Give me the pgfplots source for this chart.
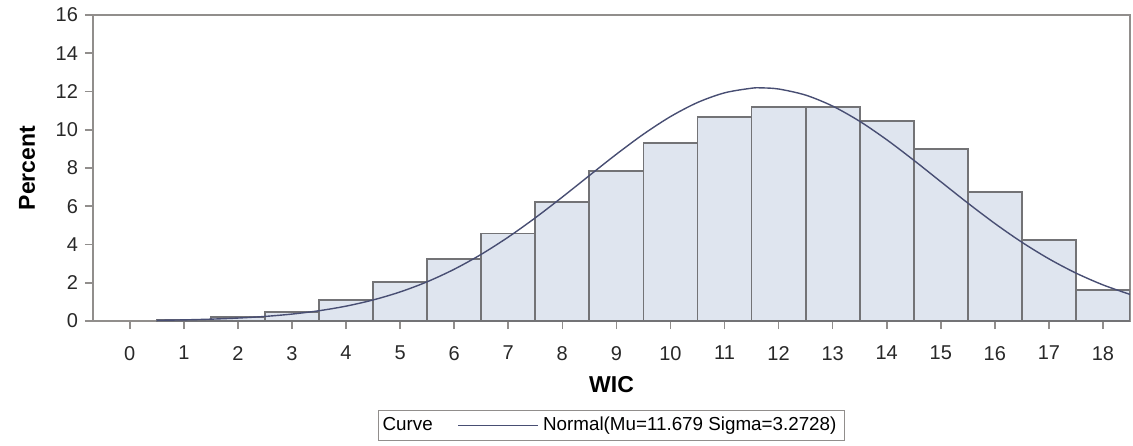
\documentclass[border=0pt]{standalone}
\usepackage{fontspec}
\setmainfont{Liberation Sans}
\usepackage{pgfplots}
\pgfplotsset{compat=1.18}
\definecolor{barfill}{RGB}{223,229,239}
\definecolor{baredge}{RGB}{115,115,118}
\definecolor{curvecol}{RGB}{72,78,115}
\definecolor{axiscol}{RGB}{145,142,140}
\definecolor{tickcol}{RGB}{40,40,40}
\begin{document}
\begin{tikzpicture}
\useasboundingbox (-46.5pt,-62pt) rectangle (520pt,160.5pt);
\begin{axis}[
  at={(0pt,0pt)}, anchor=south west,
  scale only axis,
  width=518.5pt, height=153pt,
  xmin=-0.68, xmax=18.5,
  ymin=0, ymax=16,
  xtick={0,1,...,18},
  ytick={0,2,...,16},
  xtick pos=left, ytick pos=left,
  tick align=outside,
  major tick length=4pt,
  axis line style={axiscol, line width=0.8pt},
  every tick/.style={axiscol, line width=0.8pt},
  tick label style={font=\fontsize{10}{12}\selectfont, text=tickcol},
  xticklabel style={yshift=-5pt},
  /pgf/number format/assume math mode=true,
  xlabel={\textbf{WIC}},
  ylabel={\textbf{Percent}},
  label style={font=\fontsize{11.5}{13}\selectfont\bfseries},
  xlabel style={at={(axis description cs:0.5,0)}, anchor=center, yshift=-32pt},
  ylabel style={at={(axis description cs:0,0.5)}, anchor=center, rotate=0, yshift=33pt},
  legend style={at={(axis description cs:0.5,0)}, anchor=center, yshift=-52.25pt,
    draw=axiscol, line width=0.6pt, font=\fontsize{9.4}{11}\selectfont,
    inner xsep=2pt, inner ysep=1.5pt},
  legend cell align=left,
]
\addplot[ybar, bar width=1, fill=barfill, draw=baredge, line width=0.9pt, forget plot]
coordinates {
(1,0.07) (2,0.19) (3,0.49) (4,1.10) (5,2.02) (6,3.23) (7,4.58) (8,6.24) (9,7.84)
(10,9.32) (11,10.65) (12,11.17) (13,11.17) (14,10.46) (15,8.99) (16,6.76) (17,4.24) (18,1.62)
};
\addplot[smooth, curvecol, line width=0.7pt,
  legend image code/.code={
    \node[anchor=east, inner sep=0pt, text=black] at (-12.5pt,0pt) {Curve};
    \draw[curvecol, line width=0.7pt] (0pt,0pt) -- (40pt,0pt);
  }]
coordinates {
(0.5,0.036) (1.0,0.059) (1.5,0.097) (2.0,0.154) (2.5,0.239) (3.0,0.362) (3.5,0.537)
(4.0,0.777) (4.5,1.100) (5.0,1.519) (5.5,2.050) (6.0,2.705) (6.5,3.485) (7.0,4.387)
(7.5,5.394) (8.0,6.480) (8.5,7.605) (9.0,8.720) (9.5,9.767) (10.0,10.687) (10.5,11.424)
(11.0,11.930) (11.5,12.172) (11.679,12.19) (12.0,12.131) (12.5,11.812) (13.0,11.237)
(13.5,10.442) (14.0,9.479) (14.5,8.407) (15.0,7.285) (15.5,6.167) (16.0,5.099)
(16.5,4.119) (17.0,3.251) (17.5,2.506) (18.0,1.888) (18.5,1.390)
};
\addlegendentry{Normal(Mu=11.679 Sigma=3.2728)}
\end{axis}
\end{tikzpicture}
\end{document}
